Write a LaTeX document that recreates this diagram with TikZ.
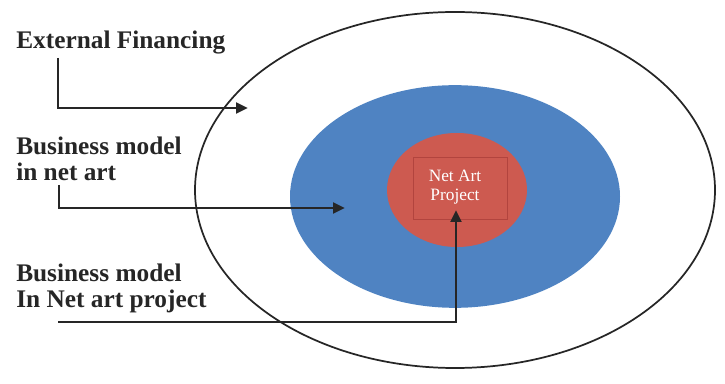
\documentclass[tikz,border=0pt]{standalone}
\usepackage{fontspec}
\setmainfont{Liberation Serif}
\usetikzlibrary{shapes.geometric,arrows.meta}
\definecolor{ringblue}{RGB}{79,131,194}
\definecolor{corered}{RGB}{205,90,80}
\definecolor{boxred}{RGB}{178,68,62}

\begin{document}
\begin{tikzpicture}[x=0.75pt, y=-0.75pt,
    ring/.style={ellipse, draw=black!85, line width=1.3pt, fill=white, minimum width=390pt, minimum height=267pt},
    middle/.style={ellipse, fill=ringblue, minimum width=247.5pt, minimum height=167pt},
    core/.style={ellipse, fill=corered, minimum width=105pt, minimum height=85.5pt},
    project/.style={rectangle, draw=boxred, line width=0.8pt, fill=corered, minimum width=71pt, minimum height=47pt},
    label/.style={anchor=north west, inner sep=0pt, align=left, text=black!85, font=\fontsize{19}{19.5}\selectfont\bfseries},
    pointer/.style={draw=black!85, line width=2.2pt, -{Triangle[length=9pt,width=8pt]}}
]

\useasboundingbox (0,0) rectangle (725,384);

% nested rings
\node[ring] (outer) at (455,190) {};
\node[middle] (blue) at (455,196.5) {};
\node[core] (red) at (457,190) {};
\node[project] (box) at (460.5,188.5) {};
\node[text=white, align=center, font=\fontsize{13}{14.5}\selectfont] (title) at (455,187) {Net Art\\Project};

% labels on the left
\node[label] (ext) at (16,31) {External Financing};
\node[label] (bmart) at (16,137) {Business model\\in net art};
\node[label] (bmproj) at (16,264) {Business model\\In Net art project};

% Pointers

\coordinate (fromA) at (58,58);
\coordinate (fromB) at (59,185);
\coordinate (fromC) at (58,322);
\coordinate (tipA) at (248,108);
\coordinate (tipB) at (345,208);
\coordinate (tipC) at (456,210);

\draw[pointer] (fromA) |- (tipA);
\draw[pointer] (fromB) |- (tipB);
\draw[pointer] (fromC) -| (tipC);

\end{tikzpicture}
\end{document}
